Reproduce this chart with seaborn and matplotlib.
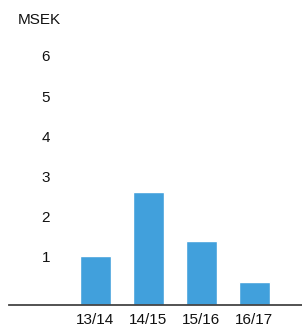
import matplotlib
matplotlib.use("Agg")
import matplotlib.pyplot as plt
import matplotlib.transforms as mtransforms
import seaborn as sns
import pandas as pd

# Data
perioder = ["13/14", "14/15", "15/16", "16/17"]
msek = [1.22, 2.8, 1.58, 0.56]
y_ticks = [1, 2, 3, 4, 5, 6]

df = pd.DataFrame({"period": perioder, "msek": msek})

sns.set_style("white")
plt.rcParams["font.family"] = ["Liberation Sans", "DejaVu Sans"]

fig = plt.figure(figsize=(3.02, 3.29), dpi=100)
ax = fig.add_axes([9 / 302, 24 / 329, 1 - 9 / 302, (329 - 24 - 3.5) / 329])

sns.barplot(data=df, x="period", y="msek", color="#41a0dc", saturation=1,
            width=0.585, ax=ax)

ax.set_xlim(-1.63, 3.9)
ax.set_ylim(0, 7.5)
ax.set_xlabel("")
ax.set_ylabel("")

for s in ["top", "right", "left"]:
    ax.spines[s].set_visible(False)
ax.spines["bottom"].set_color("#444444")
ax.spines["bottom"].set_linewidth(1.3)

ax.set_yticks(y_ticks)
ax.set_yticklabels([str(v) for v in y_ticks])
# pad is in points (1 pt = 1.39 px at 100 dpi)
ax.tick_params(axis="y", length=0, pad=-29.5, labelsize=11, colors="#111111")
ax.tick_params(axis="x", length=0, pad=5.5, labelsize=11, colors="#111111")

# labels sit a bit above the value lines
off = mtransforms.ScaledTranslation(0, 8 / 100, fig.dpi_scale_trans)
for lab in ax.get_yticklabels():
    lab.set_transform(lab.get_transform() + off)

fig.text(18 / 302, 1 - 20 / 329, "MSEK", ha="left", va="center",
         fontsize=11, color="#111111")

fig.savefig("out.png", dpi=100)
